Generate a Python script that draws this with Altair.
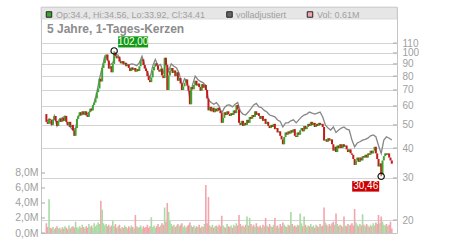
import altair as alt
import pandas as pd
import numpy as np

FONT = "Liberation Sans"

# ---------------- data ----------------
START_DATE = "2020-06-05"          # first weekly candle
FIRST_OPEN = 55.5

closes = [
    51.5, 50.5, 53.0, 52.5, 50.0, 52.5, 54.5, 52.0, 49.5, 51.5,
    53.0, 51.5, 53.5, 52.0, 54.5, 51.5, 50.0, 51.5, 49.0, 50.0,
    47.5, 45.0, 48.5, 53.0, 54.5, 56.5, 55.0, 57.0, 55.5, 57.0,
    55.0, 54.0, 56.5, 58.5, 57.5, 60.5, 62.0, 64.5, 68.5, 71.0,
    78.0, 76.0, 86.5, 90.5, 96.0, 98.5, 93.0, 86.0, 88.0, 83.0,
    90.0, 100.5, 97.0, 95.0, 96.5, 92.0, 90.5, 92.5, 89.5, 91.0,
    88.0, 89.5, 86.5, 84.0, 87.0, 85.0, 86.5, 83.5, 85.5, 84.0,
    88.0, 92.5, 94.0, 89.0, 86.0, 84.0, 80.0, 77.0, 75.5, 79.0,
    84.5, 87.5, 90.5, 88.5, 85.0, 83.5, 86.0, 80.5, 78.5, 95.5,
    89.0, 70.0, 80.5, 84.0, 86.5, 82.5, 84.5, 80.0, 83.0, 76.5,
    78.5, 74.5, 70.0, 72.5, 75.0, 77.5, 73.0, 69.5, 61.0, 72.0,
    70.5, 73.5, 76.5, 73.0, 74.5, 72.0, 69.5, 74.0, 71.5, 73.5,
    70.0, 64.5, 57.5, 59.5, 57.0, 59.0, 56.5, 58.5, 57.0, 59.0,
    57.5, 56.0, 51.0, 53.5, 56.5, 55.0, 57.0, 55.5, 54.5, 56.0,
    55.0, 57.5, 56.0, 60.5, 58.0, 51.0, 50.0, 52.0, 49.5, 51.0,
    50.0, 52.5, 51.0, 54.0, 53.0, 55.0, 54.0, 57.0, 55.0, 56.0,
    54.5, 53.0, 54.5, 52.0, 53.0, 50.5, 51.5, 49.5, 48.5, 50.0,
    49.0, 50.5, 48.0, 48.5, 46.5, 47.0, 45.0, 43.5, 41.5, 44.5,
    46.5, 45.5, 47.0, 46.0, 47.5, 46.5, 48.0, 45.0, 44.5, 46.5,
    45.5, 47.5, 48.5, 47.0, 49.5, 48.0, 49.0, 50.5, 49.5, 51.5,
    50.0, 51.0, 49.0, 50.5, 49.5, 51.0, 50.0, 50.5, 49.0, 43.0,
    43.5, 42.5, 44.0, 43.0, 43.5, 41.5, 39.0, 40.5, 38.5, 41.0,
    40.0, 41.5, 40.0, 41.5, 40.5, 41.0, 39.5, 38.5, 39.5, 38.0,
    37.5, 36.0, 34.0, 35.5, 36.5, 35.0, 36.5, 35.5, 37.0, 36.5,
    37.5, 36.5, 38.0, 37.5, 39.0, 38.0, 39.0, 40.5, 38.0, 36.0,
    33.5, 34.5, 31.0, 35.5, 37.0, 38.0, 37.5, 38.0, 36.5, 35.5,
    34.41,
]

volumes = [  # million shares
    1.3, 0.8, 4.5, 0.7, 0.6, 0.8, 0.5, 0.7, 0.9, 0.6,
    0.7, 0.5, 0.8, 0.6, 0.9, 0.7, 0.5, 1.0, 0.6, 0.8,
    0.9, 0.7, 1.5, 0.8, 0.6, 0.9, 0.7, 1.1, 0.8, 0.6,
    0.9, 0.7, 1.2, 0.8, 1.0, 0.7, 1.3, 0.9, 1.1, 1.4,
    1.2, 4.3, 3.1, 1.3, 1.0, 1.2, 0.9, 1.1, 0.8, 1.0,
    1.6, 0.9, 1.2, 0.7, 0.9, 1.1, 0.6, 0.8, 0.7, 1.0,
    0.8, 0.6, 0.9, 0.7, 1.0, 0.8, 0.6, 2.4, 0.9, 0.7,
    0.8, 1.0, 0.6, 0.9, 0.7, 0.8, 1.1, 0.7, 0.9, 2.1,
    0.8, 1.0, 0.7, 0.9, 1.2, 0.8, 1.0, 1.3, 1.1, 3.4,
    1.5, 4.0, 2.8, 1.6, 1.2, 0.9, 1.1, 0.8, 1.0, 1.2,
    0.9, 1.1, 1.3, 0.8, 1.0, 0.7, 0.9, 1.1, 1.4, 1.0,
    0.8, 1.0, 0.7, 0.9, 0.8, 1.1, 0.7, 0.9, 0.8, 1.2,
    6.4, 1.3, 4.8, 1.0, 0.8, 1.1, 0.7, 0.9, 1.0, 0.8,
    1.1, 0.9, 2.3, 1.0, 0.8, 0.7, 1.2, 0.9, 0.8, 1.0,
    0.7, 1.1, 0.9, 1.3, 1.0, 2.4, 1.2, 0.9, 1.0, 0.8,
    1.1, 2.2, 1.0, 2.0, 1.2, 0.9, 1.1, 0.8, 1.3, 0.9,
    0.8, 1.0, 0.7, 1.1, 0.9, 2.0, 1.0, 0.8, 1.2, 0.9,
    0.8, 1.1, 2.0, 0.9, 1.0, 0.7, 1.2, 0.9, 1.4, 1.1,
    0.9, 0.8, 1.1, 1.0, 2.8, 1.2, 0.9, 1.0, 0.8, 1.1,
    1.0, 2.6, 1.3, 0.9, 2.2, 1.1, 0.8, 1.0, 0.9, 1.2,
    0.8, 1.0, 0.7, 1.1, 0.9, 0.8, 1.2, 0.9, 1.0, 3.4,
    1.4, 1.1, 0.9, 1.2, 1.0, 1.3, 1.5, 1.1, 2.6, 1.2,
    0.9, 1.1, 1.0, 0.8, 2.2, 1.0, 0.9, 1.2, 1.0, 1.1,
    1.3, 1.0, 3.2, 1.4, 1.1, 0.9, 1.2, 1.0, 2.5, 1.1,
    0.9, 1.2, 1.0, 0.8, 1.1, 0.9, 1.3, 1.0, 1.4, 1.2,
    2.4, 1.3, 2.2, 1.5, 1.1, 1.0, 1.2, 0.9, 1.1, 1.5,
    0.61,
]

adjusted = [  # "volladjustiert", every second week
    51.5, 53.0, 50.0, 54.5, 49.5, 53.0, 53.5, 54.5, 50.0, 49.0,
    47.5, 48.5, 54.5, 55.0, 55.5, 55.0, 56.5, 57.5, 62.0, 68.5,
    78.0, 87.0, 97.0, 94.0, 89.0, 91.0, 98.5, 98.0, 92.0, 91.0,
    90.0, 89.0, 90.0, 89.5, 88.5, 91.0, 97.0, 89.0, 83.0, 78.5,
    88.0, 94.0, 88.5, 89.5, 82.0, 92.5, 84.0, 90.0, 88.0, 86.5,
    82.0, 73.0, 78.0, 76.0, 64.0, 73.5, 80.0, 77.5, 76.0, 75.0,
    73.0, 63.6, 62.0, 61.0, 62.0, 60.0, 56.0, 59.0, 60.5, 60.6,
    59.5, 61.0, 62.0, 57.0, 55.5, 55.0, 56.6, 58.5, 60.6, 61.5,
    59.5, 59.0, 57.5, 56.6, 55.0, 54.5, 54.0, 52.4, 51.7, 49.0,
    51.0, 51.0, 52.0, 52.5, 51.0, 52.5, 54.0, 55.0, 55.5, 56.6,
    56.0, 55.5, 56.0, 56.6, 54.0, 50.0, 48.5, 47.6, 49.0, 46.5,
    47.6, 48.5, 49.0, 48.0, 47.6, 43.2, 40.5, 42.0, 42.5, 43.2,
    43.5, 44.0, 45.0, 45.4, 44.6, 41.0, 38.0, 43.2, 44.6, 44.0,
    43.2,
]

year_labels = [2021, 2022, 2023, 2024, 2025]
price_ticks = [20, 30, 40, 50, 60, 70, 80, 90, 100, 110]
volume_ticks = [0, 2, 4, 6, 8]

peak_week, peak_value, peak_label = 51, 102.00, "102,00"
trough_week, trough_value, trough_label = 252, 30.46, "30,46"

title_text = "5 Jahre, 1-Tages-Kerzen"
legend_ohlc = "Op:34.4, Hi:34.56, Lo:33.92, Cl:34.41"
legend_adj = "volladjustiert"
legend_vol = "Vol: 0.61M"

# ---------------- styling ----------------
W, H = 356, 226
UP, DOWN = "#3da52d", "#c41a1a"
VOL_UP, VOL_DOWN = "#a9dba2", "#f2a5ad"
GRID = "#d4d4d4"
LABEL = "#a0a0a0"

# ---------------- tables ----------------
n = min(len(closes), len(volumes))
dates = pd.date_range(START_DATE, periods=n, freq="7D")
opens = [FIRST_OPEN] + closes[: n - 1]
candles = pd.DataFrame({
    "date": dates,
    "open": opens,
    "close": closes[:n],
    "vol": volumes[:n],
})
candles["dir"] = np.where(candles["close"] >= candles["open"], "up", "down")

adj_df = pd.DataFrame({
    "date": pd.date_range(START_DATE, periods=len(adjusted), freq="14D"),
    "value": adjusted,
})

extremes = pd.DataFrame({
    "date": [dates[peak_week], dates[trough_week]],
    "body": [max(opens[peak_week], closes[peak_week]),
             min(opens[trough_week], closes[trough_week])],
    "value": [peak_value, trough_value],
    "label": [peak_label, trough_label],
    "kind": ["max", "min"],
})
ext_max = extremes[extremes["kind"] == "max"]
ext_min = extremes[extremes["kind"] == "min"]

ptick_df = pd.DataFrame({"tick": price_ticks})
vtick_df = pd.DataFrame({"tick": volume_ticks})
one = pd.DataFrame({"k": [0]})

# ---------------- scales ----------------
x_scale = alt.Scale(domain=[alt.DateTime(year=2020, month=6, date=3),
                            alt.DateTime(year=2025, month=5, date=31)])
price_scale = alt.Scale(type="log", domain=[17.65, 155.7], nice=False, zero=False)
vol_scale = alt.Scale(domain=[0, 30.13], nice=False, zero=True)

X = alt.X("date:T", scale=x_scale, axis=None)
X_AXIS = alt.X(
    "date:T", scale=x_scale,
    axis=alt.Axis(values=[alt.DateTime(year=y, month=1, date=1) for y in year_labels],
                  format="%Y", title=None, grid=True, gridColor=GRID, gridWidth=1,
                  domain=False, ticks=True, tickSize=3, tickColor="#bbbbbb",
                  labelPadding=2, labelFontSize=10, labelColor=LABEL,
                  labelFont=FONT, labelFlush=False))

# ---------------- layers ----------------
header = alt.Chart(one).mark_rect(fill="#dedede", opacity=0.75, stroke="#cfcfcf",
                                  strokeWidth=1).encode(
    x=alt.value(0), x2=alt.value(W), y=alt.value(0), y2=alt.value(12))

vol_bars = alt.Chart(candles).mark_bar(size=1.6).encode(
    x=X_AXIS,
    y=alt.Y("vol:Q", scale=vol_scale,
            axis=alt.Axis(orient="left", values=volume_ticks,
                          labelExpr="replace(format(datum.value, '.1f'), '.', ',') + 'M'",
                          title=None, grid=False, domain=False, ticks=False,
                          labelPadding=3, labelFontSize=10.5, labelColor=LABEL,
                          labelFont=FONT, labelOverlap=False)),
    color=alt.condition(alt.datum.dir == "up", alt.value(VOL_UP), alt.value(VOL_DOWN)))

vol_tickmarks = alt.Chart(vtick_df).mark_tick(
    orient="horizontal", size=4, thickness=1, color="#a8a8a8", opacity=1).encode(
    y=alt.Y("tick:Q", scale=vol_scale, axis=None),
    x=alt.value(2))

price_tickmarks = alt.Chart(ptick_df).mark_tick(
    orient="horizontal", size=4, thickness=1, color="#a8a8a8", opacity=1).encode(
    y=alt.Y("tick:Q", scale=price_scale,
            axis=alt.Axis(orient="right", values=price_ticks, title=None,
                          grid=True, gridColor=GRID, gridWidth=1,
                          domain=False, ticks=False, labelPadding=5, labelFontSize=10,
                          labelColor=LABEL, labelFont=FONT, labelOverlap=False)),
    x=alt.value(W - 2))

adj_line = alt.Chart(adj_df).mark_line(color="#868686", strokeWidth=1.3).encode(
    x=X, y=alt.Y("value:Q", scale=price_scale, axis=None))

bodies = alt.Chart(candles).mark_bar(size=2.0).encode(
    x=X,
    y=alt.Y("open:Q", scale=price_scale, axis=None),
    y2="close:Q",
    color=alt.condition(alt.datum.dir == "up", alt.value(UP), alt.value(DOWN)))

wicks = alt.Chart(extremes).mark_bar(size=1).encode(
    x=X,
    y=alt.Y("body:Q", scale=price_scale, axis=None),
    y2="value:Q",
    color=alt.condition(alt.datum.kind == "max", alt.value(UP), alt.value(DOWN)))

circles = alt.Chart(extremes).mark_point(
    shape="circle", filled=False, color="#111111", size=40, strokeWidth=1.2, opacity=1
).encode(x=X, y=alt.Y("value:Q", scale=price_scale, axis=None))

box_max = alt.Chart(ext_max).mark_point(
    shape="M-1,-0.37L1,-0.37L1,0.37L-1,0.37Z", filled=True, fill="#119a11",
    strokeWidth=0, size=900, opacity=1, xOffset=19, yOffset=-9
).encode(x=X, y=alt.Y("value:Q", scale=price_scale, axis=None))

text_max = alt.Chart(ext_max).mark_text(
    dx=19, dy=-9, color="white", fontSize=10, font=FONT, align="center", baseline="middle"
).encode(x=X, y=alt.Y("value:Q", scale=price_scale, axis=None), text="label:N")

box_min = alt.Chart(ext_min).mark_point(
    shape="M-1,-0.39L1,-0.39L1,0.39L-1,0.39Z", filled=True, fill="#cc0000",
    strokeWidth=0, size=729, opacity=1, xOffset=-15.5, yOffset=10
).encode(x=X, y=alt.Y("value:Q", scale=price_scale, axis=None))

text_min = alt.Chart(ext_min).mark_text(
    dx=-15.5, dy=10, color="white", fontSize=10, font=FONT, align="center", baseline="middle"
).encode(x=X, y=alt.Y("value:Q", scale=price_scale, axis=None), text="label:N")


def legend_square(xpos, fill):
    return alt.Chart(one).mark_point(
        shape="square", filled=True, fill=fill, stroke="#222222", strokeWidth=1,
        size=30, opacity=1).encode(x=alt.value(xpos), y=alt.value(7.5))


def header_text(xpos, txt):
    return alt.Chart(one).mark_text(
        align="left", baseline="alphabetic", fontSize=9, font=FONT, color="#a0a0a0"
    ).encode(x=alt.value(xpos), y=alt.value(10.7), text=alt.value(txt))


leg = [
    legend_square(8, UP), header_text(15, legend_ohlc),
    legend_square(188.5, "#666666"), header_text(195, legend_adj),
    legend_square(269, VOL_DOWN), header_text(276, legend_vol),
]

title = alt.Chart(one).mark_text(
    align="left", baseline="alphabetic", fontSize=12, fontWeight="bold", font=FONT,
    color="#8c8c8c").encode(x=alt.value(6), y=alt.value(26), text=alt.value(title_text))

chart = alt.layer(
    header, vol_bars, vol_tickmarks, price_tickmarks,
    adj_line, bodies, wicks, circles, box_max, text_max, box_min, text_min,
    *leg, title,
).resolve_scale(y="independent").properties(
    width=W, height=H,
    padding={"left": 41, "top": 7, "right": 53, "bottom": 17},
    autosize=alt.AutoSizeParams(type="none"),
    background="white",
).configure_view(stroke="#c4c4c4", strokeWidth=1)

chart.save("out.html", embed_options={"renderer": "svg", "actions": False})
